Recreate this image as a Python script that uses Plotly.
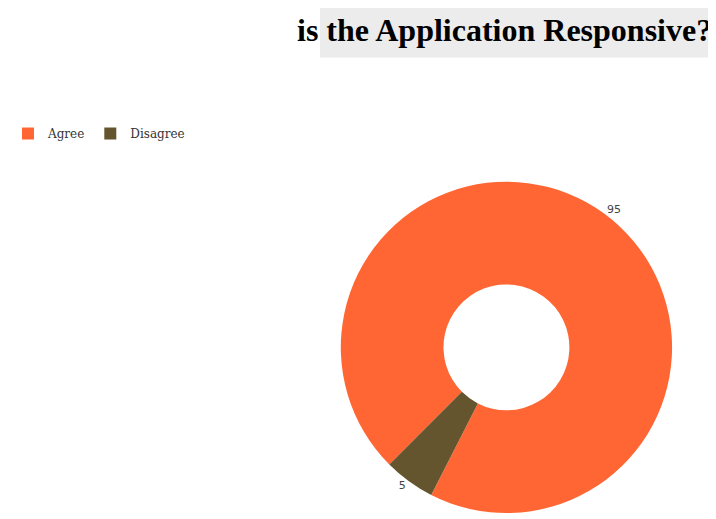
import plotly.graph_objects as go

# data
labels = ["Agree", "Disagree"]
values = [95, 5]
colors = ["#FF6633", "#65552E"]
title_text = "is the Application Responsive?"

# the page body keeps its default 8px margin, so the figure is 8px smaller
W, H = 708, 511

fig = go.Figure()

fig.add_trace(go.Pie(
    labels=labels,
    values=values,
    hole=0.38,
    sort=False,
    direction="clockwise",
    rotation=225,
    marker=dict(colors=colors, line=dict(width=0)),
    textinfo="value",
    textposition="outside",
    textfont=dict(family="DejaVu Sans", size=11, color="#444444"),
    domain=dict(x=[0.468, 0.940], y=[0.0, 0.656]),
    hoverinfo="label+value+percent",
))

# faint grey band behind the title (from the source document)
fig.add_shape(
    type="rect", xref="paper", yref="paper",
    x0=312 / W, x1=1.0, y0=1 - 50 / H, y1=1.0,
    fillcolor="#ececec", line=dict(width=0), layer="below",
)

# title as an annotation so it sits flush right
fig.add_annotation(
    text="<b>" + title_text + "</b>",
    font=dict(family="Liberation Serif", size=32, color="black"),
    xref="paper", yref="paper",
    x=706 / W, xanchor="right",
    y=1 - 22 / H, yanchor="middle",
    showarrow=False,
)

fig.update_layout(
    width=W,
    height=H,
    margin={"r": 0, "t": 0, "l": 0, "b": 0},
    paper_bgcolor="white",
    plot_bgcolor="white",
    legend=dict(
        orientation="h", x=0, xanchor="left",
        y=1 - 127 / H, yanchor="middle",
        font=dict(family="DejaVu Serif", size=12, color="#333333"),
        itemwidth=30,
    ),
)

fig.write_html("out.html")
